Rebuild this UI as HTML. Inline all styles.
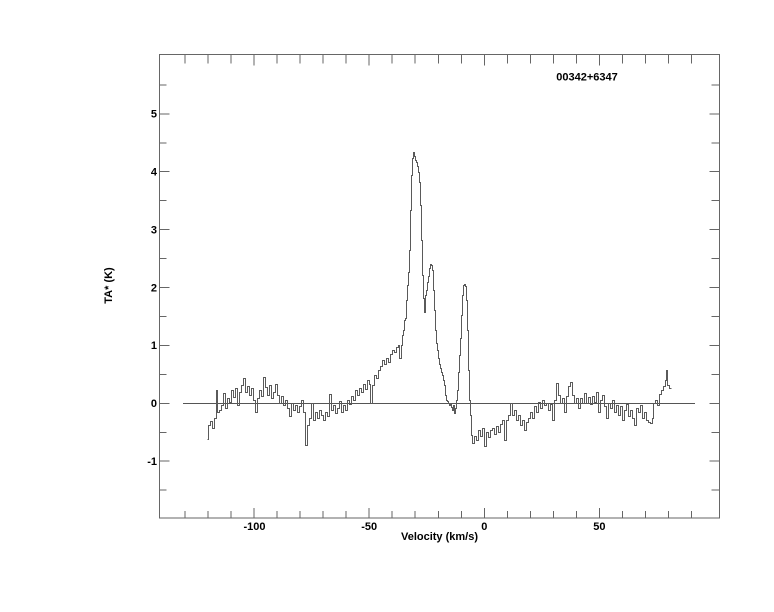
<!DOCTYPE html>
<html><head><meta charset="utf-8"><style>
html,body{margin:0;padding:0;background:#fff;}
svg{display:block;}
text{font-family:"Liberation Sans",Arial,sans-serif;font-weight:bold;font-size:11px;fill:#000;}
</style></head><body>
<svg width="774" height="612" viewBox="0 0 774 612" xmlns="http://www.w3.org/2000/svg">
<rect x="0" y="0" width="774" height="612" fill="#fff"/>
<g stroke="#666" stroke-width="1" fill="none" shape-rendering="crispEdges">
<rect x="159.5" y="54.5" width="560" height="463.5"/>
<path d="
M185.1 54.5v9 M208.1 54.5v9 M231.1 54.5v9 M254.2 54.5v11 M277.2 54.5v9 M300.2 54.5v9 M323.2 54.5v9 M346.2 54.5v9 M369.2 54.5v11 M392.2 54.5v9 M415.2 54.5v9 M438.3 54.5v9 M461.3 54.5v9 M484.3 54.5v11 M507.3 54.5v9 M530.3 54.5v9 M553.4 54.5v9 M576.4 54.5v9 M599.4 54.5v11 M622.4 54.5v9 M645.4 54.5v9 M668.5 54.5v9 M691.5 54.5v9
M185.1 518v-7 M208.1 518v-7 M231.1 518v-7 M254.2 518v-10 M277.2 518v-7 M300.2 518v-7 M323.2 518v-7 M346.2 518v-7 M369.2 518v-10 M392.2 518v-7 M415.2 518v-7 M438.3 518v-7 M461.3 518v-7 M484.3 518v-10 M507.3 518v-7 M530.3 518v-7 M553.4 518v-7 M576.4 518v-7 M599.4 518v-10 M622.4 518v-7 M645.4 518v-7 M668.5 518v-7 M691.5 518v-7
"/>
<path d="
M159.5 490.2h7 M159.5 461.2h10 M159.5 432.3h7 M159.5 403.3h10 M159.5 374.4h7 M159.5 345.4h10 M159.5 316.5h7 M159.5 287.5h10 M159.5 258.6h7 M159.5 229.6h10 M159.5 200.7h7 M159.5 171.7h10 M159.5 142.8h7 M159.5 113.8h10 M159.5 84.9h7
M719.5 490.2h-8 M719.5 461.2h-10 M719.5 432.3h-8 M719.5 403.3h-10 M719.5 374.4h-8 M719.5 345.4h-10 M719.5 316.5h-8 M719.5 287.5h-10 M719.5 258.6h-8 M719.5 229.6h-10 M719.5 200.7h-8 M719.5 171.7h-10 M719.5 142.8h-8 M719.5 113.8h-10 M719.5 84.9h-8
"/>
</g>
<line x1="183" y1="403.5" x2="695" y2="403.5" stroke="#555" stroke-width="1" shape-rendering="crispEdges"/>
<path fill="none" stroke="#5a5a5a" stroke-width="1" shape-rendering="crispEdges" transform="translate(0.5,0.5)" d="M207,439 H208 V425 H210 V421 H212 V428 H214 V418 H216 V390 H217 V412 H219 V410 H221 V405 H223 V393 H225 V408 H227 V398 H229 V402 H231 V390 H233 V397 H235 V388 H237 V405 H239 V392 H241 V385 H243 V378 H245 V392 H247 V386 H249 V395 H251 V388 H253 V400 H255 V412 H257 V398 H259 V390 H261 V396 H263 V377 H265 V387 H267 V395 H269 V385 H271 V398 H273 V392 H275 V384 H277 V395 H279 V403 H281 V396 H283 V405 H285 V400 H287 V408 H289 V416 H291 V403 H293 V410 H295 V405 H297 V412 H299 V406 H301 V400 H303 V412 H305 V445 H307 V425 H309 V418 H311 V403 H313 V420 H315 V412 H317 V418 H319 V410 H321 V415 H323 V420 H325 V412 H327 V416 H329 V394 H331 V410 H333 V405 H335 V413 H337 V408 H339 V401 H341 V412 H343 V405 H345 V410 H347 V400 H349 V404 H351 V396 H353 V400 H355 V390 H357 V395 H359 V388 H361 V392 H363 V384 H365 V389 H367 V380 H369 V384 H370 V403 H372 V385 H374 V375 H376 V378 H378 V370 H380 V366 H382 V360 H384 V364 H386 V358 H388 V362 H390 V354 H392 V350 H394 V352 H396 V347 H398 V345 H399 V358 H401 V345 H402 V335 H403 V330 H404 V320 H405 V318 H406 V300 H407 V285 H408 V272 H409 V250 H410 V210 H411 V175 H412 V158 H413 V152 H414 V156 H415 V160 H416 V162 H417 V166 H418 V172 H419 V182 H420 V205 H421 V240 H422 V275 H423 V298 H424 V312 H425 V295 H426 V290 H427 V282 H428 V276 H429 V268 H430 V264 H431 V265 H432 V270 H433 V290 H434 V310 H435 V330 H436 V343 H437 V350 H438 V358 H439 V364 H440 V368 H441 V372 H442 V375 H443 V380 H444 V385 H445 V395 H446 V400 H447 V401 H448 V403 H449 V405 H450 V403 H451 V407 H452 V410 H453 V405 H454 V413 H455 V408 H456 V400 H457 V390 H458 V372 H459 V355 H460 V338 H461 V315 H462 V295 H463 V285 H464 V284 H465 V286 H466 V300 H467 V330 H468 V370 H469 V400 H470 V415 H471 V435 H472 V443 H474 V436 H476 V440 H478 V430 H480 V436 H482 V428 H484 V446 H486 V432 H488 V437 H490 V430 H492 V428 H494 V434 H496 V426 H498 V432 H500 V424 H502 V420 H504 V440 H506 V420 H508 V415 H510 V403 H512 V415 H514 V410 H516 V420 H518 V415 H520 V425 H522 V420 H524 V430 H526 V422 H528 V418 H530 V412 H532 V418 H534 V406 H536 V412 H538 V402 H540 V408 H542 V400 H544 V405 H546 V403 H548 V410 H550 V404 H552 V420 H554 V400 H556 V383 H558 V395 H560 V403 H562 V398 H564 V412 H566 V396 H568 V386 H570 V382 H572 V395 H574 V403 H576 V398 H578 V408 H580 V398 H582 V403 H584 V393 H586 V403 H588 V397 H590 V404 H592 V396 H594 V402 H596 V392 H598 V412 H600 V400 H602 V395 H604 V406 H606 V418 H608 V403 H610 V408 H612 V400 H614 V412 H616 V405 H618 V415 H620 V406 H622 V420 H624 V410 H626 V404 H628 V416 H630 V410 H632 V418 H634 V425 H636 V408 H638 V412 H640 V405 H642 V418 H644 V412 H646 V420 H648 V422 H650 V423 H652 V418 H653 V403 H655 V400 H657 V405 H659 V394 H661 V390 H663 V386 H665 V380 H666 V370 H667 V385 H669 V388 H671"/>
<g text-anchor="end">
<text x="157" y="465">-1</text>
<text x="157" y="407">0</text>
<text x="157" y="349">1</text>
<text x="157" y="291.5">2</text>
<text x="157" y="233.5">3</text>
<text x="157" y="175.5">4</text>
<text x="157" y="117.5">5</text>
</g>
<g text-anchor="middle">
<text x="254.5" y="530">-100</text>
<text x="369.2" y="530">-50</text>
<text x="484.3" y="530">0</text>
<text x="599.4" y="530">50</text>
<text x="439.5" y="540">Velocity (km/s)</text>
<text x="587" y="80.5">00342+6347</text>
</g>
<text x="0" y="0" text-anchor="middle" transform="translate(112,285.5) rotate(-90)">TA* (K)</text>
</svg>
</body></html>
